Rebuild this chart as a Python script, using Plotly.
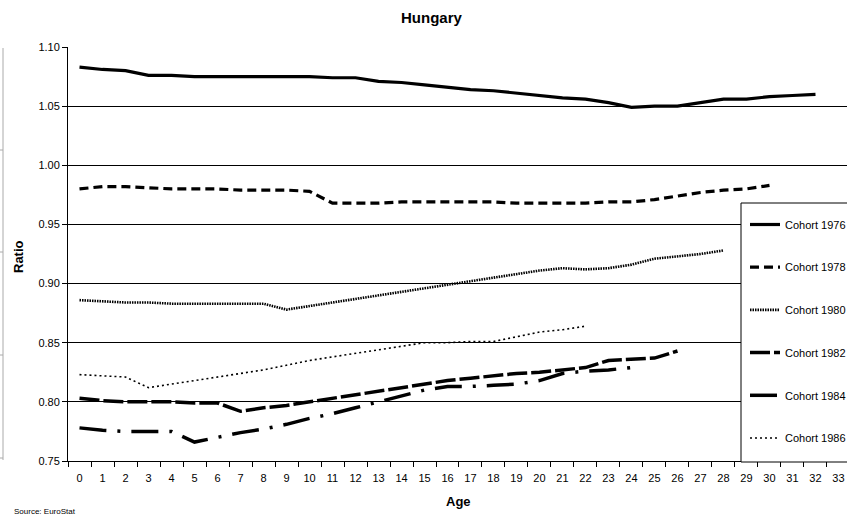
import plotly.graph_objects as go

ages = [str(a) for a in range(34)]
age_labels = [str(a) for a in range(34)]
y_ticks = [0.75, 0.80, 0.85, 0.90, 0.95, 1.00, 1.05, 1.10]
y_tick_labels = ["0.75", "0.80", "0.85", "0.90", "0.95", "1.00", "1.05", "1.10"]

cohort_1976 = [1.083, 1.081, 1.080, 1.076, 1.076, 1.075, 1.075, 1.075, 1.075, 1.075,
               1.075, 1.074, 1.074, 1.071, 1.070, 1.068, 1.066, 1.064, 1.063, 1.061,
               1.059, 1.057, 1.056, 1.053, 1.049, 1.050, 1.050, 1.053, 1.056, 1.056,
               1.058, 1.059, 1.060]
cohort_1978 = [0.980, 0.982, 0.982, 0.981, 0.980, 0.980, 0.980, 0.979, 0.979, 0.979,
               0.978, 0.968, 0.968, 0.968, 0.969, 0.969, 0.969, 0.969, 0.969, 0.968,
               0.968, 0.968, 0.968, 0.969, 0.969, 0.971, 0.974, 0.977, 0.979, 0.980,
               0.983]
cohort_1980 = [0.886, 0.885, 0.884, 0.884, 0.883, 0.883, 0.883, 0.883, 0.883, 0.878,
               0.881, 0.884, 0.887, 0.890, 0.893, 0.896, 0.899, 0.902, 0.905, 0.908,
               0.911, 0.913, 0.912, 0.913, 0.916, 0.921, 0.923, 0.925, 0.928]
cohort_1982 = [0.803, 0.801, 0.800, 0.800, 0.800, 0.799, 0.799, 0.792, 0.795, 0.797,
               0.800, 0.803, 0.806, 0.809, 0.812, 0.815, 0.818, 0.820, 0.822, 0.824,
               0.825, 0.827, 0.829, 0.835, 0.836, 0.837, 0.843]
cohort_1984 = [0.778, 0.776, 0.775, 0.775, 0.775, 0.766, 0.770, 0.774, 0.777, 0.781,
               0.786, 0.790, 0.795, 0.800, 0.805, 0.810, 0.813, 0.813, 0.814, 0.815,
               0.818, 0.824, 0.826, 0.827, 0.829]
cohort_1986 = [0.823, 0.822, 0.821, 0.812, 0.815, 0.818, 0.821, 0.824, 0.827, 0.831,
               0.835, 0.838, 0.841, 0.844, 0.847, 0.850, 0.850, 0.851, 0.851, 0.855,
               0.859, 0.861, 0.864]

series = [
    ("Cohort 1976", cohort_1976, dict(color="black", width=3.2, dash="solid")),
    ("Cohort 1978", cohort_1978, dict(color="black", width=3.2, dash="9px,5px")),
    ("Cohort 1980", cohort_1980, dict(color="black", width=2.6, dash="1.5px,1px")),
    ("Cohort 1982", cohort_1982, dict(color="black", width=3.5, dash="20px,4px")),
    ("Cohort 1984", cohort_1984, dict(color="black", width=3.5, dash="27px,11px,3px,11px")),
    ("Cohort 1986", cohort_1986, dict(color="black", width=1.6, dash="2px,3px")),
]

FONT = "Liberation Sans, Arial, sans-serif"
W, H = 847, 514
L, T, PW, PH = 68, 47, 779, 414   # plot area in pixels

def px(x):
    return (x - L) / PW

def py(y):
    return (T + PH - y) / PH

fig = go.Figure()
for name, vals, line in series:
    fig.add_trace(go.Scatter(
        x=ages[:len(vals)], y=vals, mode="lines", name=name,
        line=line, legendgroup=name,
    ))

fig.update_layout(
    width=W, height=H,
    margin=dict(l=L, r=W - L - PW, t=T, b=H - T - PH, autoexpand=False),
    paper_bgcolor="white", plot_bgcolor="white",
    font=dict(family=FONT, color="black", size=11),
    showlegend=True,
    legend=dict(
        x=px(745), y=py(210), xanchor="left", yanchor="top",
        borderwidth=0, bgcolor="rgba(0,0,0,0)",
        font=dict(family=FONT, size=11, color="black"),
        tracegroupgap=23.7, itemwidth=30,
    ),
    xaxis=dict(
        type="category", categoryorder="array", categoryarray=ages,
        tickvals=ages, ticktext=age_labels,
        range=[-0.5, 33.37], tickson="boundaries",
        ticks="outside", ticklen=5, tickcolor="black", tickwidth=1,
        ticklabelstandoff=7,
        showline=True, linecolor="black", linewidth=1,
        showgrid=False, zeroline=False, automargin=False,
        tickfont=dict(family=FONT, size=11), fixedrange=True,
    ),
    yaxis=dict(
        range=[0.75, 1.10], tickvals=y_ticks, ticktext=y_tick_labels,
        ticks="outside", ticklen=5, tickcolor="black",
        showline=True, linecolor="black", linewidth=1,
        showgrid=True, gridcolor="black", gridwidth=1, zeroline=False,
        automargin=False,
        tickfont=dict(family=FONT, size=11), fixedrange=True,
    ),
    annotations=[
        dict(text="<b>Hungary</b>", xref="paper", yref="paper", x=px(432),
             y=py(18), xanchor="center", yanchor="middle", showarrow=False,
             font=dict(family=FONT, size=15)),
        dict(text="<b>Ratio</b>", xref="paper", yref="paper", x=px(18),
             y=py(257), xanchor="center", yanchor="middle", textangle=-90,
             showarrow=False, font=dict(family=FONT, size=13)),
        dict(text="<b>Age</b>", xref="paper", yref="paper", x=px(458),
             y=py(501), xanchor="center", yanchor="middle", showarrow=False,
             font=dict(family=FONT, size=13)),
        dict(text="Source: EuroStat", xref="paper", yref="paper", x=px(12),
             y=py(505), xanchor="left", yanchor="top", showarrow=False,
             font=dict(family=FONT, size=8)),
    ],
)

# legend frame (extends past the right edge, as in the reference)
fig.add_shape(type="rect", xref="paper", yref="paper",
              x0=px(741), x1=px(860), y0=py(462), y1=py(203),
              line=dict(color="black", width=1), fillcolor="white", layer="above")

# edge of a neighbouring chart frame on the far left
fig.add_shape(type="line", xref="paper", yref="paper",
              x0=px(3), x1=px(3), y0=py(48), y1=py(460),
              line=dict(color="#aaaaaa", width=1))
for yy in [150, 252, 355, 458]:
    fig.add_shape(type="line", xref="paper", yref="paper",
                  x0=px(0), x1=px(3), y0=py(yy), y1=py(yy),
                  line=dict(color="#aaaaaa", width=1))

# remove the browser's default 8px page margin so the figure sits at the window origin
fig.write_html("out.html", config={"displayModeBar": False},
               post_script="document.body.style.margin='0';document.body.style.overflow='hidden';")
